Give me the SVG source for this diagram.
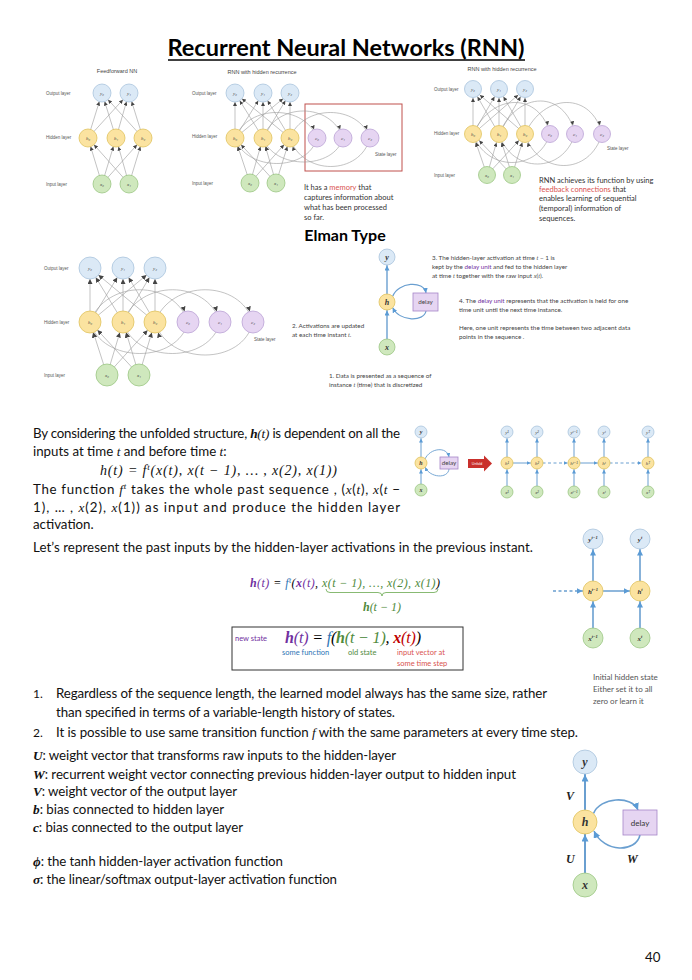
<svg xmlns="http://www.w3.org/2000/svg" width="692" height="980" viewBox="0 0 692 980">
<style>
.ttl{font-family:Lato,"Open Sans","Liberation Sans",sans-serif;font-weight:bold;font-size:22px;fill:#000}
.sub{font-family:Lato,"Liberation Sans",sans-serif;font-weight:bold;font-size:16px;fill:#000}
.body{font-family:Lato,"Liberation Sans",sans-serif;font-size:13.3px;fill:#111}
.m{font-family:"Liberation Serif",serif;font-style:italic}
.mb{font-family:"Liberation Serif",serif;font-style:italic;font-weight:bold}
.tiny{font-family:"Liberation Sans",sans-serif;font-size:4.5px;fill:#555}
.cap{font-family:"Liberation Sans",sans-serif;font-size:5.5px;fill:#444}
.note{font-family:Lato,"Liberation Sans",sans-serif;font-size:7.5px;fill:#333}
.sn{font-family:Lato,"Liberation Sans",sans-serif;font-size:6.3px;fill:#444}
.nl{font-family:"Liberation Serif","DejaVu Serif",serif;font-style:italic;font-size:5px;fill:#444;text-anchor:middle;dominant-baseline:central}
.o{fill:#dbe9f6;stroke:#a9c4dd;stroke-width:0.8}
.h{fill:#fbe3a0;stroke:#e0c35e;stroke-width:0.8}
.i{fill:#cfe8bd;stroke:#9cc784;stroke-width:0.8}
.s{fill:#e6d5f2;stroke:#bba3d6;stroke-width:0.8}
.dl{fill:#e6d5f2;stroke:#a585c9;stroke-width:0.8}
.g line,.g path{stroke:#9a9a9a;stroke-width:0.6;fill:none}
.g9 line,.g9 path{marker-end:url(#g9)}
.g11 line,.g11 path{marker-end:url(#g11)}
.r{stroke:#c0504d;stroke-width:1.6;fill:none;marker-end:url(#g9)}
.bl line,.bl path{stroke:#6a9fd0;fill:none}
.purple{fill:#7030a0}
.red{fill:#d9534f}
.grn{fill:#4f8a3c}
.blu{fill:#2e75b6}
</style>
<defs>
<marker id="g9" markerUnits="userSpaceOnUse" markerWidth="4" markerHeight="4" refX="13" refY="2" orient="auto"><path d="M0,0L4,2L0,4z" fill="#444"/></marker>
<marker id="g11" markerUnits="userSpaceOnUse" markerWidth="5" markerHeight="5" refX="16" refY="2.5" orient="auto"><path d="M0,0L5,2.5L0,5z" fill="#444"/></marker>
<marker id="b8" markerUnits="userSpaceOnUse" markerWidth="5" markerHeight="5" refX="13.5" refY="2.5" orient="auto"><path d="M0,0L5,2.5L0,5z" fill="#5b9bd5"/></marker>
<marker id="b6" markerUnits="userSpaceOnUse" markerWidth="4" markerHeight="4" refX="10.5" refY="2" orient="auto"><path d="M0,0L4,2L0,4z" fill="#5b9bd5"/></marker>
<marker id="b10" markerUnits="userSpaceOnUse" markerWidth="6" markerHeight="6" refX="16.5" refY="3" orient="auto"><path d="M0,0L6,3L0,6z" fill="#5b9bd5"/></marker>
<marker id="b12" markerUnits="userSpaceOnUse" markerWidth="7" markerHeight="7" refX="19.5" refY="3.5" orient="auto"><path d="M0,0L7,3.5L0,7z" fill="#5b9bd5"/></marker>
<marker id="t5" markerUnits="userSpaceOnUse" markerWidth="5" markerHeight="5" refX="5" refY="2.5" orient="auto"><path d="M0,0L5,2.5L0,5z" fill="#5b9bd5"/></marker>
<marker id="t4" markerUnits="userSpaceOnUse" markerWidth="4" markerHeight="4" refX="4" refY="2" orient="auto"><path d="M0,0L4,2L0,4z" fill="#5b9bd5"/></marker>
<marker id="t7" markerUnits="userSpaceOnUse" markerWidth="7" markerHeight="7" refX="7" refY="3.5" orient="auto"><path d="M0,0L7,3.5L0,7z" fill="#5b9bd5"/></marker>
</defs>
<rect width="692" height="980" fill="#fff"/>

<g id="title">
<text class="ttl" x="346" y="56" text-anchor="middle" textLength="357" lengthAdjust="spacingAndGlyphs">Recurrent Neural Networks (RNN)</text>
<line x1="168" y1="60" x2="525" y2="60" stroke="#000" stroke-width="1.6"/>
</g>

<!-- Feedforward NN -->
<g id="ff-labels">
<text class="cap" x="117" y="73" text-anchor="middle">Feedforward NN</text>
<text class="tiny" x="46" y="95">Output layer</text>
<text class="tiny" x="46" y="139">Hidden layer</text>
<text class="tiny" x="46" y="186">Input layer</text>
</g>
<g id="ff-connectors" class="g g9">
<line x1="102" y1="184" x2="88" y2="138"/><line x1="102" y1="184" x2="116" y2="138"/><line x1="102" y1="184" x2="143" y2="138"/>
<line x1="129" y1="184" x2="88" y2="138"/><line x1="129" y1="184" x2="116" y2="138"/><line x1="129" y1="184" x2="143" y2="138"/>
<line x1="88" y1="138" x2="102" y2="93"/><line x1="88" y1="138" x2="129" y2="93"/>
<line x1="116" y1="138" x2="102" y2="93"/><line x1="116" y1="138" x2="129" y2="93"/>
<line x1="143" y1="138" x2="102" y2="93"/><line x1="143" y1="138" x2="129" y2="93"/>
</g>
<g id="ff-y0"><circle class="o" cx="102" cy="93" r="9"/><text class="nl" x="102" y="93">y₀</text></g>
<g id="ff-y1"><circle class="o" cx="129" cy="93" r="9"/><text class="nl" x="129" y="93">y₁</text></g>
<g id="ff-h0"><circle class="h" cx="88" cy="138" r="9"/><text class="nl" x="88" y="138">h₀</text></g>
<g id="ff-h1"><circle class="h" cx="116" cy="138" r="9"/><text class="nl" x="116" y="138">h₁</text></g>
<g id="ff-h2"><circle class="h" cx="143" cy="138" r="9"/><text class="nl" x="143" y="138">h₂</text></g>
<g id="ff-x0"><circle class="i" cx="102" cy="184" r="9"/><text class="nl" x="102" y="184">x₀</text></g>
<g id="ff-x1"><circle class="i" cx="129" cy="184" r="9"/><text class="nl" x="129" y="184">x₁</text></g>

<!-- RNN with hidden recurrence (middle) -->
<g id="rm-labels">
<text class="cap" x="262" y="74" text-anchor="middle">RNN with hidden recurrence</text>
<text class="tiny" x="192" y="95">Output layer</text>
<text class="tiny" x="192" y="138">Hidden layer</text>
<text class="tiny" x="192" y="185">Input layer</text>
<text class="tiny" x="375" y="156">State layer</text>
<rect x="305" y="104" width="97" height="67" fill="none" stroke="#c0504d" stroke-width="1"/>
<text class="note" x="304" y="190">It has a <tspan class="red">memory</tspan> that</text>
<text class="note" x="304" y="200">captures information about</text>
<text class="note" x="304" y="210">what has been processed</text>
<text class="note" x="304" y="220">so far.</text>
</g>
<g id="rm-connectors" class="g g9">
<line x1="250" y1="183" x2="235" y2="138"/><line x1="250" y1="183" x2="263" y2="138"/><line x1="250" y1="183" x2="290" y2="138"/>
<line x1="276" y1="183" x2="235" y2="138"/><line x1="276" y1="183" x2="263" y2="138"/><line x1="276" y1="183" x2="290" y2="138"/>
<line x1="235" y1="138" x2="235" y2="93"/><line x1="235" y1="138" x2="263" y2="93"/><line x1="235" y1="138" x2="290" y2="93"/>
<line x1="263" y1="138" x2="235" y2="93"/><line x1="263" y1="138" x2="263" y2="93"/><line x1="263" y1="138" x2="290" y2="93"/>
<line x1="290" y1="138" x2="235" y2="93"/><line x1="290" y1="138" x2="263" y2="93"/><line x1="290" y1="138" x2="290" y2="93"/>
<path d="M235,138 C248,104 305,104 317,138"/>
<path d="M263,138 C276,102 331,102 343,138"/>
<path d="M290,138 C303,104 358,104 370,138"/>
<path d="M317,138 C308,172 246,172 235,138"/>
<path d="M343,138 C334,170 274,170 263,138"/>
<path d="M370,138 C360,176 302,176 290,138"/>
</g>
<g id="rm-y0"><circle class="o" cx="235" cy="93" r="9"/><text class="nl" x="235" y="93">y₀</text></g>
<g id="rm-y1"><circle class="o" cx="263" cy="93" r="9"/><text class="nl" x="263" y="93">y₁</text></g>
<g id="rm-y2"><circle class="o" cx="290" cy="93" r="9"/><text class="nl" x="290" y="93">y₂</text></g>
<g id="rm-h0"><circle class="h" cx="235" cy="138" r="9"/><text class="nl" x="235" y="138">h₀</text></g>
<g id="rm-h1"><circle class="h" cx="263" cy="138" r="9"/><text class="nl" x="263" y="138">h₁</text></g>
<g id="rm-h2"><circle class="h" cx="290" cy="138" r="9"/><text class="nl" x="290" y="138">h₂</text></g>
<g id="rm-c0"><circle class="s" cx="317" cy="138" r="9"/><text class="nl" x="317" y="138">c₀</text></g>
<g id="rm-c1"><circle class="s" cx="343" cy="138" r="9"/><text class="nl" x="343" y="138">c₁</text></g>
<g id="rm-c2"><circle class="s" cx="370" cy="138" r="9"/><text class="nl" x="370" y="138">c₂</text></g>
<g id="rm-x0"><circle class="i" cx="250" cy="183" r="9"/><text class="nl" x="250" y="183">x₀</text></g>
<g id="rm-x1"><circle class="i" cx="276" cy="183" r="9"/><text class="nl" x="276" y="183">x₁</text></g>

<!-- RNN with hidden recurrence (right, feedback) -->
<g id="rr-labels">
<text class="cap" x="502" y="71" text-anchor="middle">RNN with hidden recurrence</text>
<text class="tiny" x="434" y="91">Output layer</text>
<text class="tiny" x="434" y="135">Hidden layer</text>
<text class="tiny" x="434" y="177">Input layer</text>
<text class="tiny" x="607" y="150">State layer</text>
<text class="note" x="539" y="183">RNN achieves its function by using</text>
<text class="note" x="539" y="192"><tspan class="red">feedback connections</tspan> that</text>
<text class="note" x="539" y="201">enables learning of sequential</text>
<text class="note" x="539" y="211">(temporal) information of</text>
<text class="note" x="539" y="221">sequences.</text>
</g>
<g id="rr-connectors" class="g g9">
<line x1="487" y1="175" x2="473" y2="134"/><line x1="487" y1="175" x2="499" y2="134"/><line x1="487" y1="175" x2="525" y2="134"/>
<line x1="512" y1="175" x2="473" y2="134"/><line x1="512" y1="175" x2="499" y2="134"/><line x1="512" y1="175" x2="525" y2="134"/>
<line x1="473" y1="134" x2="473" y2="89"/><line x1="473" y1="134" x2="499" y2="89"/><line x1="473" y1="134" x2="525" y2="89"/>
<line x1="499" y1="134" x2="473" y2="89"/><line x1="499" y1="134" x2="499" y2="89"/><line x1="499" y1="134" x2="525" y2="89"/>
<line x1="525" y1="134" x2="473" y2="89"/><line x1="525" y1="134" x2="499" y2="89"/><line x1="525" y1="134" x2="525" y2="89"/>
<path class="r" d="M473,134 C492,92 540,92 550,134"/>
<path class="r" d="M499,134 C518,90 565,90 575,134"/>
<path class="r" d="M525,134 C544,92 592,92 602,134"/>
<path class="r" d="M550,134 C538,172 486,172 473,134"/>
<path class="r" d="M575,134 C563,174 512,174 499,134"/>
<path class="r" d="M602,134 C590,176 538,176 525,134"/>
</g>
<g id="rr-y0"><circle class="o" cx="473" cy="89" r="8.5"/><text class="nl" x="473" y="89">y₀</text></g>
<g id="rr-y1"><circle class="o" cx="499" cy="89" r="8.5"/><text class="nl" x="499" y="89">y₁</text></g>
<g id="rr-y2"><circle class="o" cx="525" cy="89" r="8.5"/><text class="nl" x="525" y="89">y₂</text></g>
<g id="rr-h0"><circle class="h" cx="473" cy="134" r="8.5"/><text class="nl" x="473" y="134">h₀</text></g>
<g id="rr-h1"><circle class="h" cx="499" cy="134" r="8.5"/><text class="nl" x="499" y="134">h₁</text></g>
<g id="rr-h2"><circle class="h" cx="525" cy="134" r="8.5"/><text class="nl" x="525" y="134">h₂</text></g>
<g id="rr-c0"><circle class="s" cx="550" cy="134" r="8.5"/><text class="nl" x="550" y="134">c₀</text></g>
<g id="rr-c1"><circle class="s" cx="575" cy="134" r="8.5"/><text class="nl" x="575" y="134">c₁</text></g>
<g id="rr-c2"><circle class="s" cx="602" cy="134" r="8.5"/><text class="nl" x="602" y="134">c₂</text></g>
<g id="rr-x0"><circle class="i" cx="487" cy="175" r="8.5"/><text class="nl" x="487" y="175">x₀</text></g>
<g id="rr-x1"><circle class="i" cx="512" cy="175" r="8.5"/><text class="nl" x="512" y="175">x₁</text></g>

<!-- Elman Type -->
<g id="elman-title"><text class="sub" x="345" y="241" text-anchor="middle">Elman Type</text></g>
<g id="el-labels">
<text class="tiny" x="44" y="270">Output layer</text>
<text class="tiny" x="44" y="324">Hidden layer</text>
<text class="tiny" x="44" y="377">Input layer</text>
<text class="tiny" x="254" y="341">State layer</text>
</g>
<g id="el-connectors" class="g g11">
<line x1="107" y1="375" x2="90" y2="322"/><line x1="107" y1="375" x2="123" y2="322"/><line x1="107" y1="375" x2="155" y2="322"/>
<line x1="139" y1="375" x2="90" y2="322"/><line x1="139" y1="375" x2="123" y2="322"/><line x1="139" y1="375" x2="155" y2="322"/>
<line x1="90" y1="322" x2="90" y2="268"/><line x1="90" y1="322" x2="123" y2="268"/><line x1="90" y1="322" x2="155" y2="268"/>
<line x1="123" y1="322" x2="90" y2="268"/><line x1="123" y1="322" x2="123" y2="268"/><line x1="123" y1="322" x2="155" y2="268"/>
<line x1="155" y1="322" x2="90" y2="268"/><line x1="155" y1="322" x2="123" y2="268"/><line x1="155" y1="322" x2="155" y2="268"/>
<path d="M90,322 C106,279 174,279 188,322"/>
<path d="M123,322 C139,279 207,279 220,322"/>
<path d="M155,322 C171,279 240,279 253,322"/>
<path d="M188,322 C178,364 102,364 90,322"/>
<path d="M220,322 C210,364 135,364 123,322"/>
<path d="M253,322 C243,366 168,366 155,322"/>
</g>
<g id="el-y0"><circle class="o" cx="90" cy="268" r="11"/><text class="nl" x="90" y="268">y₀</text></g>
<g id="el-y1"><circle class="o" cx="123" cy="268" r="11"/><text class="nl" x="123" y="268">y₁</text></g>
<g id="el-y2"><circle class="o" cx="155" cy="268" r="11"/><text class="nl" x="155" y="268">y₂</text></g>
<g id="el-h0"><circle class="h" cx="90" cy="322" r="11"/><text class="nl" x="90" y="322">h₀</text></g>
<g id="el-h1"><circle class="h" cx="123" cy="322" r="11"/><text class="nl" x="123" y="322">h₁</text></g>
<g id="el-h2"><circle class="h" cx="155" cy="322" r="11"/><text class="nl" x="155" y="322">h₂</text></g>
<g id="el-c0"><circle class="s" cx="188" cy="322" r="11"/><text class="nl" x="188" y="322">c₀</text></g>
<g id="el-c1"><circle class="s" cx="220" cy="322" r="11"/><text class="nl" x="220" y="322">c₁</text></g>
<g id="el-c2"><circle class="s" cx="253" cy="322" r="11"/><text class="nl" x="253" y="322">c₂</text></g>
<g id="el-x0"><circle class="i" cx="107" cy="375" r="11"/><text class="nl" x="107" y="375">x₀</text></g>
<g id="el-x1"><circle class="i" cx="139" cy="375" r="11"/><text class="nl" x="139" y="375">x₁</text></g>

<!-- Elman compact diagram -->
<g id="ec-notes">
<text class="sn" x="292" y="328">2. Activations are updated</text>
<text class="sn" x="292" y="337">at each time instant <tspan class="m">t</tspan>.</text>
<text class="sn" x="329" y="378">1. Data is presented as a sequence of</text>
<text class="sn" x="329" y="387">instance <tspan class="m">t</tspan> (time) that is discretized</text>
<text class="sn" x="432" y="260">3. The hidden-layer activation at time <tspan class="m">t</tspan> − 1 is</text>
<text class="sn" x="432" y="269">kept by the <tspan class="purple">delay unit</tspan> and fed to the hidden layer</text>
<text class="sn" x="432" y="278">at time <tspan class="m">t</tspan> together with the raw input <tspan class="m">x</tspan>(<tspan class="m">t</tspan>).</text>
<text class="sn" x="459" y="303">4. The <tspan class="purple">delay unit</tspan> represents that the activation is held for one</text>
<text class="sn" x="459" y="312">time unit until the next time instance.</text>
<text class="sn" x="459" y="330">Here, one unit represents the time between two adjacent data</text>
<text class="sn" x="459" y="339">points in the sequence .</text>
</g>
<g id="ec-connectors" class="bl">
<line x1="387" y1="347" x2="387" y2="302" stroke-width="1.4" marker-end="url(#b8)"/>
<line x1="387" y1="302" x2="387" y2="257" stroke-width="1.4" marker-end="url(#b8)"/>
<path d="M392.7,296.3 C398,282 424,280 426,293" stroke-width="1.2" marker-end="url(#t5)"/>
<path d="M426,311 C424,322 400,322 392.7,307.7" stroke-width="1.2" marker-end="url(#t5)"/>
</g>
<g id="ec-y"><circle class="o" cx="387" cy="257" r="8"/><text class="mb" x="387" y="260" font-size="8" text-anchor="middle" fill="#333">y</text></g>
<g id="ec-h"><circle class="h" cx="387" cy="302" r="8"/><text class="mb" x="387" y="305" font-size="8" text-anchor="middle" fill="#333">h</text></g>
<g id="ec-x"><circle class="i" cx="387" cy="347" r="8"/><text class="mb" x="387" y="350" font-size="8" text-anchor="middle" fill="#333">x</text></g>
<g id="ec-delay"><rect class="dl" x="413" y="293" width="25" height="18"/><text class="sn" x="425.5" y="304" text-anchor="middle" font-size="5">delay</text></g>

<!-- Middle paragraph -->
<g id="para1" class="body">
<text x="33" y="438" textLength="367" lengthAdjust="spacing">By considering the unfolded structure, <tspan class="mb">h</tspan><tspan class="m">(t)</tspan> is dependent on all the</text>
<text x="33" y="456">inputs at time <tspan class="m">t</tspan> and before time <tspan class="m">t</tspan>:</text>
<text x="100" y="475" class="m" font-size="14" textLength="237" lengthAdjust="spacing">h(t) = f<tspan dy="-5" font-size="9">t</tspan><tspan dy="5">(x(t), x(t − 1), … , x(2), x(1))</tspan></text>
<text x="33" y="494" textLength="367" lengthAdjust="spacing">The function <tspan class="m">f</tspan><tspan class="m" dy="-5" font-size="9">t</tspan><tspan dy="5"> takes the whole past sequence , (</tspan><tspan class="m">x</tspan>(<tspan class="m">t</tspan>), <tspan class="m">x</tspan>(<tspan class="m">t</tspan> −</text>
<text x="33" y="512" textLength="367" lengthAdjust="spacing">1), … , <tspan class="m">x</tspan>(2), <tspan class="m">x</tspan>(1)) as input and produce the hidden layer</text>
<text x="33" y="529">activation.</text>
</g>

<!-- Unfold diagram -->
<g id="uf-connectors" class="bl">
<line x1="421" y1="490" x2="421" y2="463" stroke-width="1" marker-end="url(#b6)"/>
<line x1="421" y1="463" x2="421" y2="432" stroke-width="1" marker-end="url(#b6)"/>
<path d="M425,459 C430,448 447,446 449,457" stroke-width="0.9" marker-end="url(#t4)"/>
<path d="M449,469 C448,479 430,478 425.2,467.2" stroke-width="0.9" marker-end="url(#t4)"/>
<line x1="507" y1="492" x2="507" y2="463" stroke-width="1" marker-end="url(#b6)"/>
<line x1="507" y1="463" x2="507" y2="432" stroke-width="1" marker-end="url(#b6)"/>
<line x1="537" y1="492" x2="537" y2="463" stroke-width="1" marker-end="url(#b6)"/>
<line x1="537" y1="463" x2="537" y2="432" stroke-width="1" marker-end="url(#b6)"/>
<line x1="574" y1="492" x2="574" y2="463" stroke-width="1" marker-end="url(#b6)"/>
<line x1="574" y1="463" x2="574" y2="432" stroke-width="1" marker-end="url(#b6)"/>
<line x1="604" y1="492" x2="604" y2="463" stroke-width="1" marker-end="url(#b6)"/>
<line x1="604" y1="463" x2="604" y2="432" stroke-width="1" marker-end="url(#b6)"/>
<line x1="648" y1="492" x2="648" y2="463" stroke-width="1" marker-end="url(#b6)"/>
<line x1="648" y1="463" x2="648" y2="432" stroke-width="1" marker-end="url(#b6)"/>
<line x1="507" y1="463" x2="537" y2="463" stroke-width="1" marker-end="url(#b6)"/>
<line x1="537" y1="463" x2="574" y2="463" stroke-width="1" stroke-dasharray="3,2.5" marker-end="url(#b6)"/>
<line x1="574" y1="463" x2="604" y2="463" stroke-width="1" marker-end="url(#b6)"/>
<line x1="604" y1="463" x2="648" y2="463" stroke-width="1" stroke-dasharray="3,2.5" marker-end="url(#b6)"/>
</g>
<g id="uf-y"><circle class="o" cx="421" cy="432" r="6"/><text class="mb" x="421" y="434" font-size="6" text-anchor="middle" fill="#333">y</text></g>
<g id="uf-h"><circle class="h" cx="421" cy="463" r="6"/><text class="mb" x="421" y="465" font-size="6" text-anchor="middle" fill="#333">h</text></g>
<g id="uf-x"><circle class="i" cx="421" cy="490" r="6"/><text class="mb" x="421" y="492" font-size="6" text-anchor="middle" fill="#333">x</text></g>
<g id="uf-delay"><rect class="dl" x="440" y="457" width="18" height="12"/><text class="sn" x="449" y="464.5" text-anchor="middle" font-size="3.5">delay</text></g>
<g id="uf-arrow"><polygon points="468,459 484,459 484,455.5 492,463.5 484,471.5 484,468 468,468" fill="#c9302c"/><text x="477" y="465" font-family="Liberation Sans,sans-serif" font-size="3.6" fill="#fff" text-anchor="middle">Unfold</text></g>
<g id="uf-y1"><circle class="o" cx="507" cy="432" r="6"/><text class="nl" x="507" y="432" font-size="4.5">y¹</text></g>
<g id="uf-y2"><circle class="o" cx="537" cy="432" r="6"/><text class="nl" x="537" y="432" font-size="4.5">y²</text></g>
<g id="uf-yt1"><circle class="o" cx="574" cy="432" r="6"/><text class="nl" x="574" y="432" font-size="4">yᵗ⁻¹</text></g>
<g id="uf-yt"><circle class="o" cx="604" cy="432" r="6"/><text class="nl" x="604" y="432" font-size="4.5">yᵗ</text></g>
<g id="uf-yT"><circle class="o" cx="648" cy="432" r="6"/><text class="nl" x="648" y="432" font-size="4.5">yᵀ</text></g>
<g id="uf-h1"><circle class="h" cx="507" cy="463" r="6"/><text class="nl" x="507" y="463" font-size="4.5">h¹</text></g>
<g id="uf-h2"><circle class="h" cx="537" cy="463" r="6"/><text class="nl" x="537" y="463" font-size="4.5">h²</text></g>
<g id="uf-ht1"><circle class="h" cx="574" cy="463" r="6"/><text class="nl" x="574" y="463" font-size="4">hᵗ⁻¹</text></g>
<g id="uf-ht"><circle class="h" cx="604" cy="463" r="6"/><text class="nl" x="604" y="463" font-size="4.5">hᵗ</text></g>
<g id="uf-hT"><circle class="h" cx="648" cy="463" r="6"/><text class="nl" x="648" y="463" font-size="4.5">hᵀ</text></g>
<g id="uf-x1"><circle class="i" cx="507" cy="492" r="6"/><text class="nl" x="507" y="492" font-size="4.5">x¹</text></g>
<g id="uf-x2"><circle class="i" cx="537" cy="492" r="6"/><text class="nl" x="537" y="492" font-size="4.5">x²</text></g>
<g id="uf-xt1"><circle class="i" cx="574" cy="492" r="6"/><text class="nl" x="574" y="492" font-size="4">xᵗ⁻¹</text></g>
<g id="uf-xt"><circle class="i" cx="604" cy="492" r="6"/><text class="nl" x="604" y="492" font-size="4.5">xᵗ</text></g>
<g id="uf-xT"><circle class="i" cx="648" cy="492" r="6"/><text class="nl" x="648" y="492" font-size="4.5">xᵀ</text></g>

<!-- Past inputs -->
<g id="para2" class="body">
<text x="33" y="552" textLength="500" lengthAdjust="spacing">Let’s represent the past inputs by the hidden-layer activations in the previous instant.</text>
</g>
<g id="eq1">
<text x="250" y="587" class="m" font-size="12" textLength="190" lengthAdjust="spacing"><tspan class="mb purple">h</tspan><tspan class="purple">(t)</tspan> = <tspan class="blu">f</tspan><tspan class="blu" dy="-4" font-size="8">t</tspan><tspan dy="4">(</tspan><tspan class="mb purple">x</tspan><tspan class="purple">(t)</tspan>,<tspan class="grn"> x(t − 1), …, x(2), x(1)</tspan>)</text>
<path d="M326,589 Q326,592.5 330,592.5 L378,592.5 Q382,592.5 382,596 Q382,592.5 386,592.5 L434,592.5 Q438,592.5 438,589" fill="none" stroke="#6aa84f" stroke-width="0.8"/>
<text x="382" y="611" class="m grn" font-size="12" text-anchor="middle"><tspan class="mb">h</tspan>(t − 1)</text>
</g>
<g id="eq-box">
<rect x="232" y="627" width="231" height="43" fill="none" stroke="#333" stroke-width="1"/>
<text x="235" y="641" class="purple" font-family="Lato,Liberation Sans,sans-serif" font-size="7.5">new state</text>
<text x="285" y="643" class="m" font-size="16" textLength="136" lengthAdjust="spacing"><tspan class="mb purple">h</tspan><tspan class="purple">(t)</tspan> = <tspan class="blu">f</tspan>(<tspan class="mb grn">h</tspan><tspan class="grn">(t − 1)</tspan>, <tspan class="mb" fill="#c00000">x</tspan><tspan fill="#c00000">(t)</tspan>)</text>
<text x="282" y="655" class="blu" font-family="Lato,Liberation Sans,sans-serif" font-size="7.5">some function</text>
<text x="348" y="655" class="grn" font-family="Lato,Liberation Sans,sans-serif" font-size="7.5">old state</text>
<text x="397" y="655" class="red" font-family="Lato,Liberation Sans,sans-serif" font-size="7.5">input vector at</text>
<text x="397" y="666" class="red" font-family="Lato,Liberation Sans,sans-serif" font-size="7.5">some time step</text>
</g>

<!-- right small unrolled -->
<g id="ru-connectors" class="bl">
<line x1="593" y1="638" x2="593" y2="591" stroke-width="1.6" marker-end="url(#b10)"/>
<line x1="593" y1="591" x2="593" y2="539" stroke-width="1.6" marker-end="url(#b10)"/>
<line x1="640" y1="638" x2="640" y2="591" stroke-width="1.6" marker-end="url(#b10)"/>
<line x1="640" y1="591" x2="640" y2="539" stroke-width="1.6" marker-end="url(#b10)"/>
<line x1="593" y1="591" x2="640" y2="591" stroke-width="1.6" marker-end="url(#b10)"/>
<line x1="553" y1="591" x2="593" y2="591" stroke-width="1.4" stroke-dasharray="3,2.5" marker-end="url(#b10)"/>
</g>
<g id="ru-yt1"><circle class="o" cx="593" cy="539" r="10"/><text class="mb" x="593" y="541.5" font-size="7" text-anchor="middle" fill="#333">y<tspan font-size="4.5" dy="-3">t−1</tspan></text></g>
<g id="ru-yt"><circle class="o" cx="640" cy="539" r="10"/><text class="mb" x="640" y="541.5" font-size="7" text-anchor="middle" fill="#333">y<tspan font-size="4.5" dy="-3">t</tspan></text></g>
<g id="ru-ht1"><circle class="h" cx="593" cy="591" r="10"/><text class="mb" x="593" y="593.5" font-size="7" text-anchor="middle" fill="#333">h<tspan font-size="4.5" dy="-3">t−1</tspan></text></g>
<g id="ru-ht"><circle class="h" cx="640" cy="591" r="10"/><text class="mb" x="640" y="593.5" font-size="7" text-anchor="middle" fill="#333">h<tspan font-size="4.5" dy="-3">t</tspan></text></g>
<g id="ru-xt1"><circle class="i" cx="593" cy="638" r="10"/><text class="mb" x="593" y="640.5" font-size="7" text-anchor="middle" fill="#333">x<tspan font-size="4.5" dy="-3">t−1</tspan></text></g>
<g id="ru-xt"><circle class="i" cx="640" cy="638" r="10"/><text class="mb" x="640" y="640.5" font-size="7" text-anchor="middle" fill="#333">x<tspan font-size="4.5" dy="-3">t</tspan></text></g>
<g id="ru-note" font-family="Lato,Liberation Sans,sans-serif" font-size="8" fill="#555">
<text x="593" y="680">Initial hidden state</text>
<text x="593" y="692">Either set it to all</text>
<text x="593" y="704">zero or learn it</text>
</g>

<!-- list -->
<g id="list" class="body">
<text x="33" y="698" font-size="12">1.</text>
<text x="56" y="698" textLength="491" lengthAdjust="spacing">Regardless of the sequence length, the learned model always has the same size, rather</text>
<text x="56" y="717" textLength="339" lengthAdjust="spacing">than specified in terms of a variable-length history of states.</text>
<text x="33" y="737" font-size="12">2.</text>
<text x="56" y="737" textLength="522" lengthAdjust="spacing">It is possible to use same transition function <tspan class="m">f</tspan> with the same parameters at every time step.</text>
</g>

<!-- definitions -->
<g id="defs-text" class="body">
<text x="33" y="760" textLength="363" lengthAdjust="spacing"><tspan class="mb">U</tspan>: weight vector that transforms raw inputs to the hidden-layer</text>
<text x="33" y="779" textLength="483" lengthAdjust="spacing"><tspan class="mb">W</tspan>: recurrent weight vector connecting previous hidden-layer output to hidden input</text>
<text x="33" y="796" textLength="204" lengthAdjust="spacing"><tspan class="mb">V</tspan>: weight vector of the output layer</text>
<text x="33" y="814" textLength="191" lengthAdjust="spacing"><tspan class="mb">b</tspan>: bias connected to hidden layer</text>
<text x="33" y="832" textLength="210" lengthAdjust="spacing"><tspan class="mb">c</tspan>: bias connected to the output layer</text>
<text x="33" y="866" textLength="250" lengthAdjust="spacing"><tspan class="mb">ϕ</tspan>: the tanh hidden-layer activation function</text>
<text x="33" y="884" textLength="304" lengthAdjust="spacing"><tspan class="mb">σ</tspan>: the linear/softmax output-layer activation function</text>
</g>

<!-- bottom right RNN diagram -->
<g id="br-connectors" class="bl">
<line x1="585" y1="885" x2="585" y2="822" stroke-width="2" marker-end="url(#b12)"/>
<line x1="585" y1="822" x2="585" y2="762" stroke-width="2" marker-end="url(#b12)"/>
<path d="M593.5,813.5 C600,797 632,795 638,810" stroke-width="1.6" marker-end="url(#t7)"/>
<path d="M640,835 C636,853 604,853 594,831" stroke-width="1.6" marker-end="url(#t7)"/>
</g>
<g id="br-y"><circle class="o" cx="585" cy="762" r="12"/><text class="mb" x="585" y="766" font-size="12" text-anchor="middle" fill="#333">y</text></g>
<g id="br-h"><circle class="h" cx="585" cy="822" r="12"/><text class="mb" x="585" y="826" font-size="12" text-anchor="middle" fill="#333">h</text></g>
<g id="br-x"><circle class="i" cx="585" cy="885" r="12"/><text class="mb" x="585" y="889" font-size="12" text-anchor="middle" fill="#333">x</text></g>
<g id="br-delay"><rect class="dl" x="623" y="810" width="34" height="25"/><text x="640" y="825.5" font-family="Lato,Liberation Sans,sans-serif" font-size="8" fill="#333" text-anchor="middle">delay</text></g>
<g id="br-labels" font-size="12" fill="#222">
<text class="mb" x="566" y="800">V</text>
<text class="mb" x="566" y="863">U</text>
<text class="mb" x="627" y="863">W</text>
</g>

<g id="page"><text class="body" x="645" y="962" font-size="13">40</text></g>
</svg>
